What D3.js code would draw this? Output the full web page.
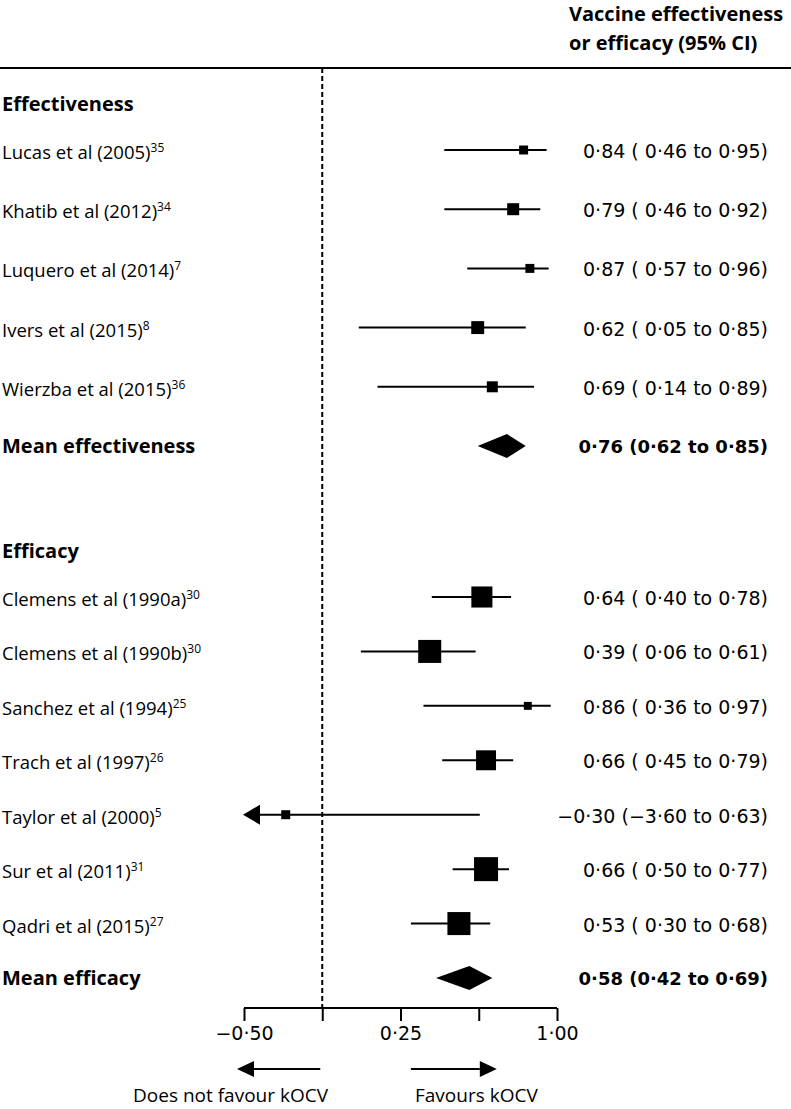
<!DOCTYPE html>
<html>
<head>
<meta charset="utf-8">
<script src="https://cdn.jsdelivr.net/npm/d3@7"></script>
<style>
  body { margin: 0; background: #fff; }
  text { font-family: "Open Sans", sans-serif; fill: #000; white-space: pre; }
  .num { font-family: "DejaVu Sans", sans-serif; }
</style>
</head>
<body>
<div id="chart"></div>
<script>
// effectiveness studies
var effNames = ["Lucas et al (2005)", "Khatib et al (2012)", "Luquero et al (2014)", "Ivers et al (2015)", "Wierzba et al (2015)"];
var effRefs = ["35", "34", "7", "8", "36"];
var effEst = [0.84, 0.79, 0.87, 0.62, 0.69];
var effLow = [0.46, 0.46, 0.57, 0.05, 0.14];
var effHigh = [0.95, 0.92, 0.96, 0.85, 0.89];
var effWeight = [14, 25, 14, 29, 21];
var effMean = [0.76, 0.62, 0.85];

// efficacy studies
var efcNames = ["Clemens et al (1990a)", "Clemens et al (1990b)", "Sanchez et al (1994)", "Trach et al (1997)", "Taylor et al (2000)", "Sur et al (2011)", "Qadri et al (2015)"];
var efcRefs = ["30", "30", "25", "26", "5", "31", "27"];
var efcEst = [0.64, 0.39, 0.86, 0.66, -0.30, 0.66, 0.53];
var efcLow = [0.40, 0.06, 0.36, 0.45, -3.60, 0.50, 0.30];
var efcHigh = [0.78, 0.61, 0.97, 0.79, 0.63, 0.77, 0.68];
var efcWeight = [77, 92, 11, 69, 14, 100, 92];
var efcMean = [0.58, 0.42, 0.69];

var tickVals = [-0.5, -0.125, 0.25, 0.625, 1.0];
var tickLabels = ["−0·50", "", "0·25", "", "1·00"];
var refValue = -0.125;

var width = 791, height = 1109;

var svg = d3.select("#chart").append("svg")
    .attr("width", width)
    .attr("height", height);

var x = d3.scaleLinear().domain([-0.5, 1]).range([244, 557]);
var side = d3.scaleSqrt().domain([0, 100]).range([0, 24]);

var fmt = function(v){
    var s = d3.format(".2f")(Math.abs(v)).replace(".", "·");
    return (v < 0 ? "−" : "") + s;
};

// build rows of each section
var makeRows = function(names, refs, est, low, high, weight){
    return names.map(function(n, i){
        return {name: n, ref: refs[i], est: est[i], low: low[i], high: high[i], w: weight[i]};
    });
};
var effRows = makeRows(effNames, effRefs, effEst, effLow, effHigh, effWeight);
var efcRows = makeRows(efcNames, efcRefs, efcEst, efcLow, efcHigh, efcWeight);

var yEff = d3.scalePoint().domain(effNames.concat(["mean"])).range([150, 446]);
var yEfc = d3.scalePoint().domain(efcNames.concat(["mean"])).range([597, 978]);

// header
svg.append("text").attr("x", 569).attr("y", 21)
    .style("font-size", "20px").style("font-weight", "bold").text("Vaccine effectiveness");
svg.append("text").attr("x", 569).attr("y", 50)
    .style("font-size", "20px").style("font-weight", "bold").text("or efficacy (95% CI)");
svg.append("line").attr("x1", 0).attr("x2", width).attr("y1", 68).attr("y2", 68)
    .attr("stroke", "#000").attr("stroke-width", 2);

// reference line
svg.append("line")
    .attr("x1", x(refValue)).attr("x2", x(refValue))
    .attr("y1", 68).attr("y2", 1008)
    .attr("stroke", "#000").attr("stroke-width", 2)
    .attr("stroke-dasharray", "5,3");

var drawSection = function(title, rows, y, mean, meanLabel){
    var g = svg.append("g");
    g.append("text").attr("x", 2).attr("y", y(rows[0].name) - 47 + 8)
        .style("font-size", "20px").style("font-weight", "bold").text(title);

    var row = g.selectAll("g.row").data(rows).enter().append("g")
        .attr("class", "row")
        .attr("transform", function(d){ return "translate(0," + y(d.name) + ")"; });

    var lbl = row.append("text").attr("x", 2).attr("y", 9).style("font-size", "18.5px");
    lbl.append("tspan").text(function(d){ return d.name; });
    lbl.append("tspan").attr("dy", -7).style("font-size", "12px").text(function(d){ return d.ref; });

    row.append("line")
        .attr("x1", function(d){ return x(Math.max(d.low, -0.5)) + (d.low < -0.5 ? 10 : 0); })
        .attr("x2", function(d){ return x(d.high); })
        .attr("stroke", "#000").attr("stroke-width", 2);

    row.filter(function(d){ return d.low < -0.5; }).append("path")
        .attr("d", "M" + (x(-0.5) - 1) + ",0 L" + (x(-0.5) + 16) + ",-10 L" + (x(-0.5) + 16) + ",10 Z")
        .attr("fill", "#000");

    row.append("rect")
        .attr("x", function(d){ return x(d.est) - side(d.w) / 2; })
        .attr("y", function(d){ return -side(d.w) / 2; })
        .attr("width", function(d){ return side(d.w); })
        .attr("height", function(d){ return side(d.w); })
        .attr("fill", "#000");

    row.append("text").attr("class", "num").attr("x", 768).attr("y", 8)
        .attr("text-anchor", "end").style("font-size", "19px")
        .text(function(d){
            return fmt(d.est) + " (" + (d.low < 0 ? "" : " ") + fmt(d.low) + " to " + fmt(d.high) + ")";
        });

    // pooled mean
    var my = y("mean");
    g.append("text").attr("x", 2).attr("y", my + 7)
        .style("font-size", "20px").style("font-weight", "bold").text(meanLabel);
    g.append("path")
        .attr("d", "M" + x(mean[1]) + "," + my + " L" + x(mean[0]) + "," + (my - 12) +
            " L" + x(mean[2]) + "," + my + " L" + x(mean[0]) + "," + (my + 12) + " Z")
        .attr("fill", "#000");
    g.append("text").attr("class", "num").attr("x", 768).attr("y", my + 7)
        .attr("text-anchor", "end").style("font-size", "18px").style("font-weight", "bold")
        .text(fmt(mean[0]) + " (" + fmt(mean[1]) + " to " + fmt(mean[2]) + ")");
};

drawSection("Effectiveness", effRows, yEff, effMean, "Mean effectiveness");
drawSection("Efficacy", efcRows, yEfc, efcMean, "Mean efficacy");

// axis
var axis = d3.axisBottom(x).tickValues(tickVals)
    .tickSize(13).tickPadding(6)
    .tickFormat(function(d, i){ return tickLabels[i]; });
var ax = svg.append("g").attr("transform", "translate(0,1008)").call(axis);
ax.select(".domain").attr("stroke-width", 2).attr("d", "M" + x(-0.5) + ",0H" + x(1));
ax.selectAll(".tick line").attr("stroke-width", 2);
ax.selectAll(".tick text").attr("class", "num").style("font-size", "19px")
    .style("font-family", "'DejaVu Sans', sans-serif");

// direction arrows
var ay = 1069;
svg.append("line").attr("x1", x(-0.5) + 10).attr("x2", x(refValue) - 2).attr("y1", ay).attr("y2", ay)
    .attr("stroke", "#000").attr("stroke-width", 2);
svg.append("path")
    .attr("d", "M" + (x(-0.5) - 7) + "," + ay + " L" + (x(-0.5) + 10) + "," + (ay - 8) + " L" + (x(-0.5) + 10) + "," + (ay + 8) + " Z")
    .attr("fill", "#000");
svg.append("line").attr("x1", x(0.3)).attr("x2", x(0.63)).attr("y1", ay).attr("y2", ay)
    .attr("stroke", "#000").attr("stroke-width", 2);
svg.append("path")
    .attr("d", "M" + (x(0.63) + 17) + "," + ay + " L" + x(0.63) + "," + (ay - 8) + " L" + x(0.63) + "," + (ay + 8) + " Z")
    .attr("fill", "#000");

svg.append("text").attr("x", 328).attr("y", 1102).attr("text-anchor", "end")
    .style("font-size", "19px").text("Does not favour kOCV");
svg.append("text").attr("x", 415).attr("y", 1102).attr("text-anchor", "start")
    .style("font-size", "19px").text("Favours kOCV");
</script>
</body>
</html>
